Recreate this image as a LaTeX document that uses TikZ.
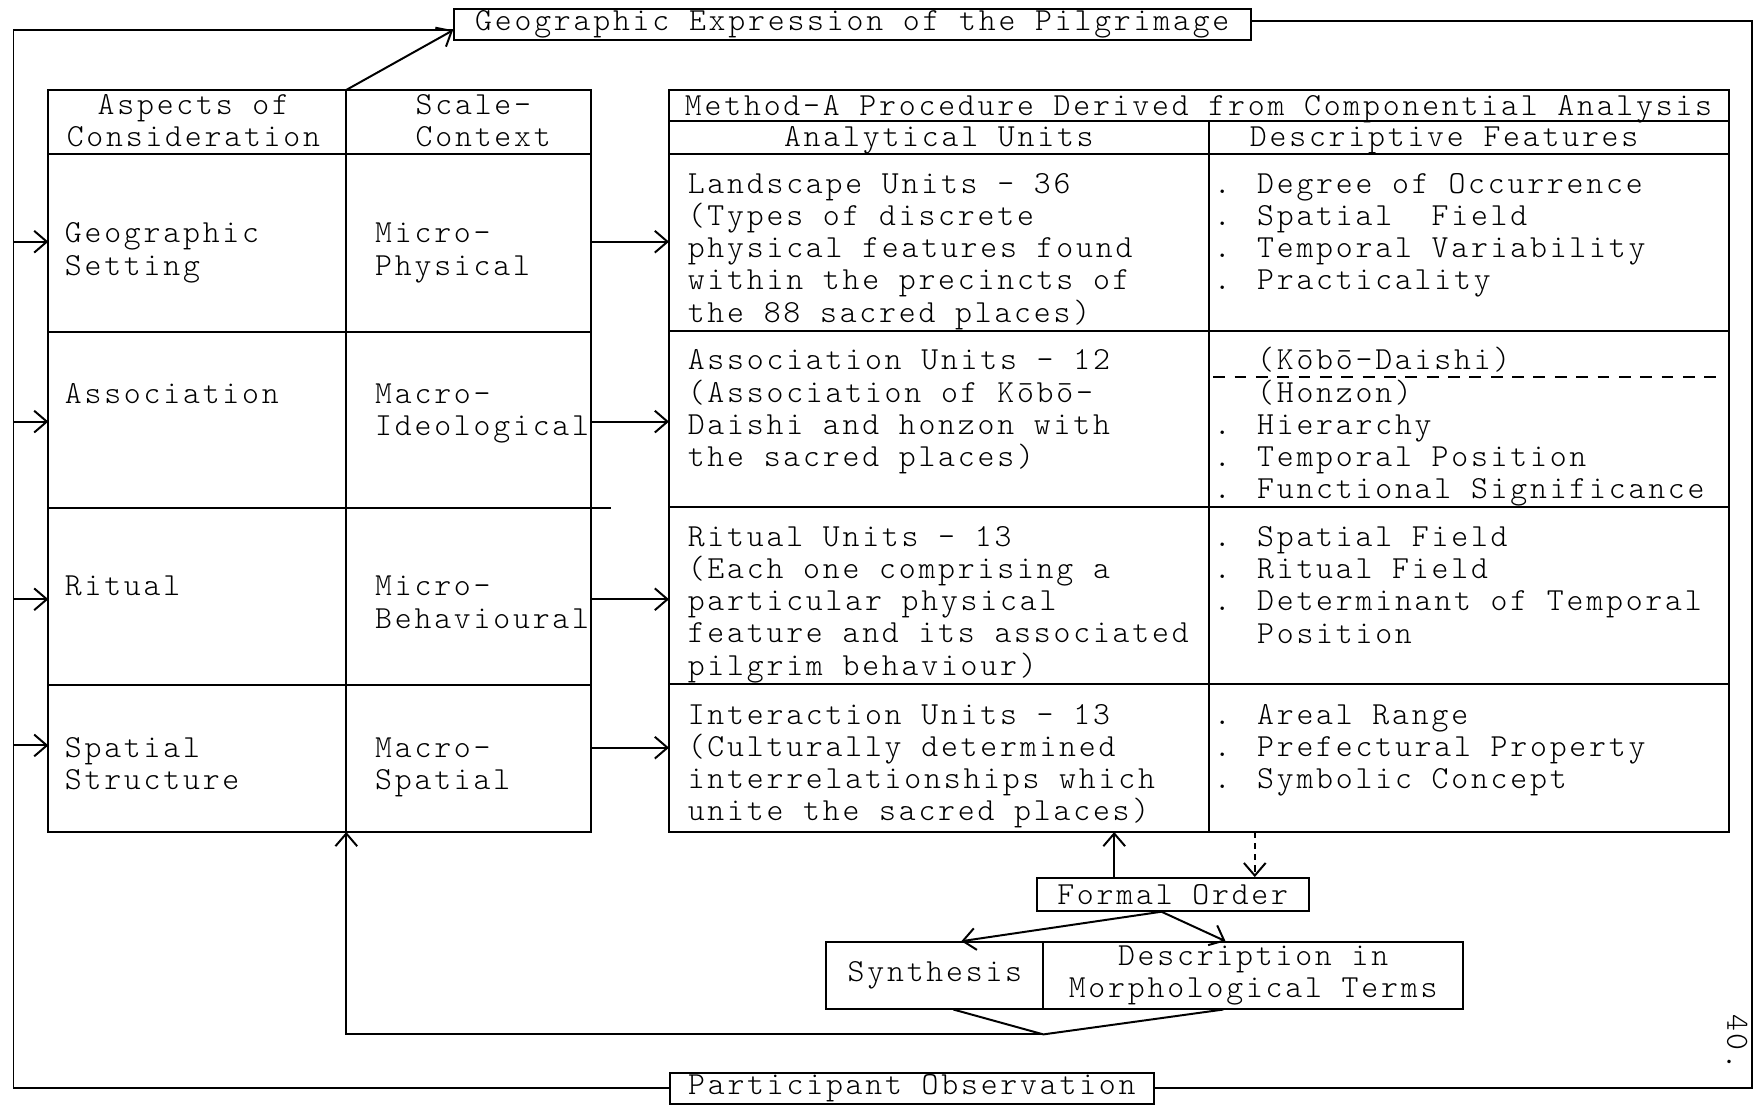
\documentclass[tikz,border=0pt]{standalone}
\usepackage{fontspec}
\newfontfamily\typer{lmmonolt10-regular.otf}[LetterSpace=8.7]
\usetikzlibrary{arrows.meta}
\newcommand\tw{\fontsize{8.14pt}{8.14pt}\typer}

\tikzset{
  rule/.style={line width=0.5pt},
  flow/.style={rule, -{Straight Barb[length=3.2pt,width=5.5pt]}},
  box/.style={draw, rule, inner sep=0pt, align=center},
  cell/.style={anchor=base west, align=left, inner sep=0pt},
  head/.style={anchor=base, align=center, inner sep=0pt},
}

\begin{document}
\begin{tikzpicture}[x=0.01cm, y=-0.01cm, every node/.style={font=\tw}]
\useasboundingbox (0,0) rectangle (1568,983);

% --- outer frame boxes ---
\node[box, minimum width=7.08cm, minimum height=0.28cm] (geo) at (758,22) {Geographic Expression of the Pilgrimage};
\node[box, minimum width=4.30cm, minimum height=0.28cm] (part) at (811,968) {Participant Observation};

% --- feedback loop round everything ---
\coordinate (loopL) at (12,0);
\coordinate (loopR) at (1558,0);
\draw[rule] ([yshift=-1.4pt]geo.west) -| (loopL |- part.west) -- (part.west);
\draw[rule] ([yshift=0.9pt]geo.east) -| (loopR |- part.east) -- (part.east);

% --- left table: aspects / scale-context ---
% (cell nodes sit on the baseline of their last line)
\draw[rule] (43,80) rectangle (526,740);
\draw[rule] (308,80) -- (308,740);
\draw[rule] (43,137) -- (526,137);
\draw[rule] (43,295) -- (526,295);
\draw[rule] (43,452) -- (543,452);
\draw[rule] (43,609) -- (526,609);

\node[head] (h-asp) at (172,130.6) {Aspects of\\Consideration};
\node[cell] (h-ctx) at (369,130.6) {Scale-\\Context};

\node[cell] (asp-geo) at (57,244.6) {Geographic\\Setting};
\node[cell] (asp-ass) at (57,359) {Association};
\node[cell] (asp-rit) at (57,530) {Ritual};
\node[cell] (asp-spa) at (57,702.6) {Spatial\\Structure};

\node[cell] (ctx-geo) at (333,244.6) {Micro-\\Physical};
\node[cell] (ctx-ass) at (333,387.6) {Macro-\\Ideological};
\node[cell] (ctx-rit) at (333,558.6) {Micro-\\Behavioural};
\node[cell] (ctx-spa) at (333,702.6) {Macro-\\Spatial};

% inputs from the loop
\foreach \y/\n in {215/1,375/2,533/3,663/4}{
  \coordinate (asp\n) at (43,\y);
  \draw[flow] (loopL |- asp\n) -- (asp\n);
}

% --- right table: method-A procedure ---
\draw[rule] (595,80) rectangle (1538,740);
\draw[rule] (595,108) -- (1538,108);
\draw[rule] (595,137) -- (1538,137);
\draw[rule] (1075,108) -- (1075,740);
\foreach \y in {294,451,608}
  \draw[rule] (595,\y) -- (1538,\y);

\node[head] (h-meth) at (1066,103) {Method-A Procedure Derived from Componential Analysis};
\node[head] (h-unit) at (835,130) {Analytical Units};
\node[cell] (h-feat) at (1111,130) {Descriptive Features};

\node[cell] (unit-land) at (611,286.5) {Landscape Units - 36\\(Types of discrete\\physical features found\\within the precincts of\\the 88 sacred places)};
\node[cell] (unit-ass) at (611,414.9) {Association Units - 12\\(Association of Kōbō-\\Daishi and honzon with\\the sacred places)};
\node[cell] (unit-rit) at (611,600.5) {Ritual Units - 13\\(Each one comprising a\\particular physical\\feature and its associated\\pilgrim behaviour)};
\node[cell] (unit-int) at (611,729.9) {Interaction Units - 13\\(Culturally determined\\interrelationships which\\unite the sacred places)};

\node[cell] (feat-land) at (1079,257.9) {. Degree of Occurrence\\. Spatial~~Field\\. Temporal Variability\\. Practicality};
\node[cell] (feat-ass) at (1079,443.5) {\hphantom{. }(Kōbō-Daishi)\\\hphantom{. }(Honzon)\\. Hierarchy\\. Temporal Position\\. Functional Significance};
\draw[rule, dash pattern=on 3pt off 2.4pt] (1079,335) -- (1530,335);
\node[cell] (feat-rit) at (1079,571.9) {. Spatial Field\\. Ritual Field\\. Determinant of Temporal\\\hphantom{. }Position};
\node[cell] (feat-int) at (1079,701.3) {. Areal Range\\. Prefectural Property\\. Symbolic Concept};

% links between the tables
\foreach \y/\n in {215/1,375/2,533/3,665/4}{
  \coordinate (ctx\n) at (526,\y);
  \coordinate (unit\n) at (595,\y);
  \draw[flow] (ctx\n) -- (unit\n);
}
\coordinate (ctxtop) at (308,80);
\draw[flow] (ctxtop) -- ([yshift=-1.4pt]geo.west);

% --- formal order and the two outcomes ---
\node[box, minimum width=2.42cm, minimum height=0.29cm] (formal) at (1043,795.5) {Formal Order};
\node[box, minimum width=1.93cm, minimum height=0.59cm] (synth) at (831.5,867.5) {Synthesis};
\node[box, minimum width=3.73cm, minimum height=0.59cm] (desc) at (1114.5,867.5) {Description in\\Morphological Terms};

\coordinate (unitsS) at (991,740);
\coordinate (featS) at (1116,740);
\draw[flow] (formal.north -| unitsS) -- (unitsS);
\draw[flow, dash pattern=on 1.6pt off 1.2pt] (featS) -- (formal.north -| featS);
\draw[flow] ([xshift=-0.1cm]formal.south) -- ([xshift=0.235cm]synth.north);
\draw[flow] ([xshift=-0.1cm]formal.south) -- ([xshift=-0.245cm]desc.north);

\coordinate (merge) at (928,920);
\coordinate (ctxbot) at (308,740);
\draw[rule] ([xshift=0.165cm]synth.south) -- (merge) -- ([xshift=-0.265cm]desc.south);
\draw[flow] (merge) -| (ctxbot);

% page number
\node[rotate=-90] (pageno) at (1545,927) {40.};
\end{tikzpicture}
\end{document}
